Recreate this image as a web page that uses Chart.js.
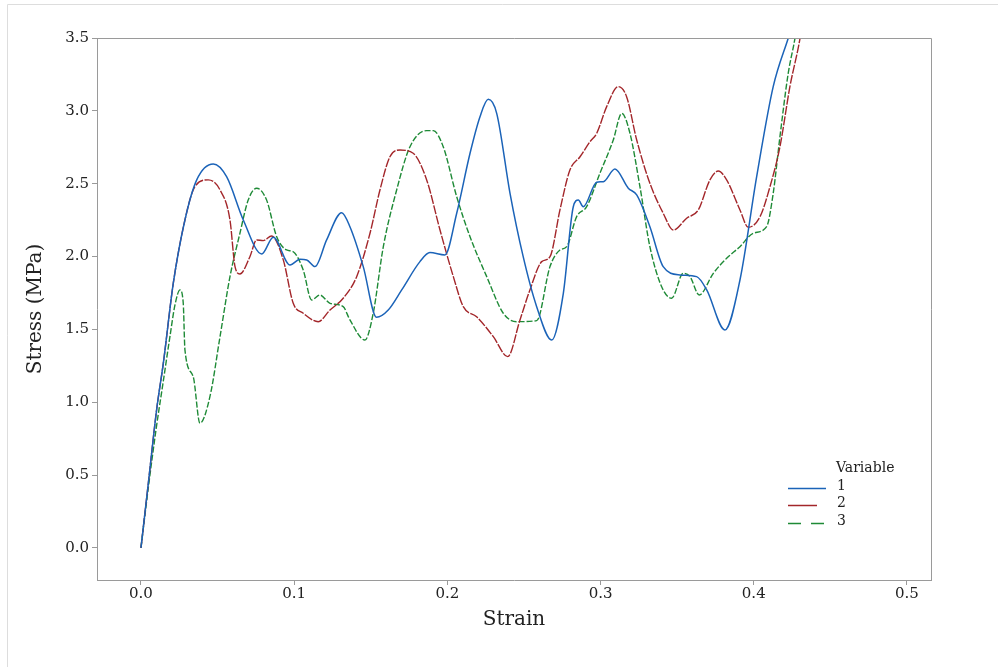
<!DOCTYPE html>
<html>
<head>
<meta charset="utf-8">
<script src="https://cdn.jsdelivr.net/npm/chart.js@4/dist/chart.umd.min.js"></script>
<style>
  html, body { margin: 0; padding: 0; background: #fff; }
  #wrap { width: 998px; height: 667px; position: relative; }
</style>
</head>
<body>
<div id="wrap"><canvas id="stressChart"></canvas></div>
<script>
// Kurva tegangan-regangan
const strain1 = [0, 0.0048, 0.0102, 0.0146, 0.0211, 0.0287, 0.0364, 0.0472, 0.0559, 0.0668, 0.0788, 0.0864, 0.0973, 0.1038, 0.1082, 0.1136, 0.1212, 0.1310, 0.1364, 0.1451, 0.1538, 0.1614, 0.1702, 0.1821, 0.1886, 0.1984, 0.2061, 0.2148, 0.2213, 0.2267, 0.2322, 0.2409, 0.2495, 0.2583, 0.2681, 0.2757, 0.2822, 0.2855, 0.2887, 0.2975, 0.3018, 0.3094, 0.3181, 0.3236, 0.3322, 0.3409, 0.3518, 0.3627, 0.3693, 0.3812, 0.3910, 0.4019, 0.4127, 0.4225, 0.4280];
const stress1 = [0, 0.444, 0.947, 1.268, 1.817, 2.251, 2.526, 2.635, 2.548, 2.251, 2.018, 2.132, 1.942, 1.981, 1.977, 1.931, 2.114, 2.301, 2.205, 1.931, 1.583, 1.633, 1.771, 1.965, 2.027, 2.011, 2.297, 2.709, 2.960, 3.079, 2.983, 2.434, 1.999, 1.656, 1.427, 1.748, 2.342, 2.388, 2.342, 2.510, 2.514, 2.601, 2.469, 2.423, 2.205, 1.931, 1.874, 1.862, 1.771, 1.496, 1.839, 2.548, 3.166, 3.498, 3.680];

const strain2 = [0, 0.0048, 0.0102, 0.0146, 0.0211, 0.0287, 0.0352, 0.0439, 0.0516, 0.0581, 0.0614, 0.0646, 0.0711, 0.0755, 0.0798, 0.0853, 0.0929, 0.0994, 0.1059, 0.1157, 0.1234, 0.1320, 0.1408, 0.1495, 0.1560, 0.1625, 0.1691, 0.1777, 0.1865, 0.1952, 0.2039, 0.2104, 0.2191, 0.2300, 0.2394, 0.2474, 0.2539, 0.2616, 0.2670, 0.2735, 0.2800, 0.2866, 0.2931, 0.2975, 0.3040, 0.3116, 0.3170, 0.3236, 0.3322, 0.3409, 0.3475, 0.3562, 0.3638, 0.3714, 0.3768, 0.3823, 0.3910, 0.3964, 0.4041, 0.4106, 0.4171, 0.4236, 0.4302, 0.4330];
const stress2 = [0, 0.444, 0.947, 1.268, 1.817, 2.251, 2.480, 2.526, 2.457, 2.251, 1.931, 1.880, 1.999, 2.114, 2.109, 2.141, 1.977, 1.679, 1.611, 1.553, 1.633, 1.714, 1.862, 2.160, 2.457, 2.685, 2.731, 2.709, 2.526, 2.182, 1.862, 1.656, 1.587, 1.450, 1.313, 1.565, 1.771, 1.965, 1.999, 2.320, 2.594, 2.685, 2.788, 2.846, 3.029, 3.166, 3.097, 2.800, 2.503, 2.297, 2.182, 2.263, 2.320, 2.526, 2.587, 2.526, 2.320, 2.201, 2.274, 2.480, 2.754, 3.166, 3.498, 3.700];

const strain3 = [0, 0.0046, 0.0098, 0.0144, 0.0189, 0.0222, 0.0255, 0.0276, 0.0287, 0.0341, 0.0385, 0.0450, 0.0516, 0.0581, 0.0646, 0.0700, 0.0755, 0.0820, 0.0886, 0.0951, 0.0994, 0.1059, 0.1114, 0.1168, 0.1234, 0.1320, 0.1364, 0.1462, 0.1516, 0.1582, 0.1669, 0.1756, 0.1865, 0.1908, 0.1973, 0.2061, 0.2148, 0.2257, 0.2365, 0.2452, 0.2583, 0.2670, 0.2735, 0.2779, 0.2844, 0.2909, 0.2996, 0.3083, 0.3138, 0.3192, 0.3257, 0.3322, 0.3399, 0.3464, 0.3540, 0.3584, 0.3644, 0.3736, 0.3823, 0.3910, 0.3997, 0.4084, 0.4127, 0.4171, 0.4225, 0.4269, 0.4290];
const stress3 = [0, 0.398, 0.810, 1.132, 1.450, 1.668, 1.771, 1.679, 1.359, 1.176, 0.856, 1.038, 1.450, 1.862, 2.160, 2.388, 2.469, 2.388, 2.136, 2.045, 2.033, 1.908, 1.702, 1.736, 1.679, 1.656, 1.565, 1.427, 1.611, 2.068, 2.457, 2.754, 2.864, 2.864, 2.754, 2.411, 2.136, 1.862, 1.611, 1.553, 1.560, 1.931, 2.045, 2.068, 2.274, 2.342, 2.572, 2.800, 2.983, 2.846, 2.480, 2.068, 1.793, 1.714, 1.885, 1.862, 1.736, 1.885, 1.988, 2.068, 2.160, 2.205, 2.434, 2.823, 3.258, 3.498, 3.650];

const seriesNames = ['1', '2', '3'];
const xTicks = [0, 0.1, 0.2, 0.3, 0.4, 0.5];
const yTicks = [0, 0.5, 1.0, 1.5, 2.0, 2.5, 3.0, 3.5];

const FONT = "'DejaVu Serif', serif";
const AXIS_COL = '#9a9a9a';
const TXT_COL = '#222';

function toPoints(xs, ys) {
    return xs.map((x, i) => ({ x: x, y: ys[i] }));
}

// garis kotak atas/kanan + bingkai luar + legenda manual
const boxPlugin = {
    id: 'boxPlugin',
    afterDraw(chart) {
        const { ctx, chartArea: a } = chart;
        ctx.save();
        ctx.strokeStyle = AXIS_COL;
        ctx.lineWidth = 1;
        ctx.beginPath();
        ctx.moveTo(a.left, a.top + 0.5);
        ctx.lineTo(a.right + 0.5, a.top + 0.5);
        ctx.lineTo(a.right + 0.5, a.bottom);
        ctx.stroke();

        ctx.strokeStyle = '#dddddd';
        ctx.beginPath();
        ctx.moveTo(7.5, 667);
        ctx.lineTo(7.5, 4.5);
        ctx.lineTo(998, 4.5);
        ctx.stroke();

        // legenda
        ctx.font = '14px ' + FONT;
        ctx.fillStyle = TXT_COL;
        ctx.textBaseline = 'middle';
        ctx.textAlign = 'left';
        ctx.fillText('Variable', 836, 468);
        const rows = [486, 503, 521];
        const lens = [38, 29, 37];
        const dashes = [[], [], [13, 10]];
        chart.data.datasets.forEach((ds, i) => {
            ctx.strokeStyle = ds.borderColor;
            ctx.lineWidth = 1.5;
            ctx.setLineDash(dashes[i]);
            ctx.beginPath();
            ctx.moveTo(788, rows[i] + 2.5);
            ctx.lineTo(788 + lens[i], rows[i] + 2.5);
            ctx.stroke();
            ctx.setLineDash([]);
            ctx.fillStyle = TXT_COL;
            ctx.fillText(ds.label, 837, rows[i]);
        });
        ctx.restore();
    }
};

new Chart(document.getElementById('stressChart'), {
    type: 'line',
    plugins: [boxPlugin],
    data: {
        datasets: [
            {
                label: seriesNames[0],
                data: toPoints(strain1, stress1),
                borderColor: '#1b63b8',
                borderWidth: 1.5,
                pointRadius: 0,
                cubicInterpolationMode: 'monotone'
            },
            {
                label: seriesNames[1],
                data: toPoints(strain2, stress2),
                borderColor: '#a3262a',
                borderWidth: 1.4,
                borderDash: [9, 1.5],
                pointRadius: 0,
                cubicInterpolationMode: 'monotone'
            },
            {
                label: seriesNames[2],
                data: toPoints(strain3, stress3),
                borderColor: '#1e8a36',
                borderWidth: 1.4,
                borderDash: [6, 2],
                pointRadius: 0,
                cubicInterpolationMode: 'monotone'
            }
        ]
    },
    options: {
        responsive: true,
        maintainAspectRatio: false,
        animation: false,
        layout: { padding: { top: 38, right: 67, left: 0, bottom: 0 } },
        plugins: {
            legend: { display: false },
            tooltip: { enabled: false }
        },
        scales: {
            x: {
                type: 'linear',
                min: -0.0287,
                max: 0.5157,
                afterBuildTicks: (scale) => { scale.ticks = xTicks.map(v => ({ value: v })); },
                afterFit: (scale) => { scale.height = 87; },
                grid: { drawOnChartArea: false, drawTicks: true, tickLength: 5, color: AXIS_COL },
                border: { color: AXIS_COL },
                ticks: {
                    padding: 0,
                    color: TXT_COL,
                    font: { family: FONT, size: 15 },
                    callback: v => Number(v).toFixed(1)
                },
                title: {
                    display: true,
                    text: 'Strain',
                    color: TXT_COL,
                    font: { family: FONT, size: 20 },
                    padding: { top: 0, bottom: 35 }
                }
            },
            y: {
                type: 'linear',
                min: -0.22,
                max: 3.5,
                afterBuildTicks: (scale) => { scale.ticks = yTicks.map(v => ({ value: v })); },
                afterFit: (scale) => { scale.width = 97; },
                grid: { drawOnChartArea: false, drawTicks: true, tickLength: 5, color: AXIS_COL },
                border: { color: AXIS_COL },
                ticks: {
                    padding: 3,
                    color: TXT_COL,
                    font: { family: FONT, size: 15 },
                    callback: v => Number(v).toFixed(1)
                },
                title: {
                    display: true,
                    text: 'Stress (MPa)',
                    color: TXT_COL,
                    font: { family: FONT, size: 20 },
                    padding: { top: 24, bottom: 0 }
                }
            }
        }
    }
});
</script>
</body>
</html>
